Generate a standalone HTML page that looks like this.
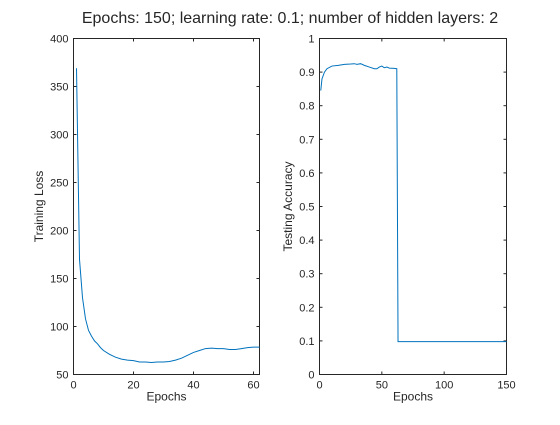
<!DOCTYPE html>
<html><head><meta charset="utf-8"><style>
body{margin:0;background:#fff;width:560px;height:420px;overflow:hidden}
text{font-family:"Liberation Sans",sans-serif;fill:#262626}
</style></head><body>
<svg id="fig" width="560" height="420" xmlns="http://www.w3.org/2000/svg">
<text x="290" y="23" font-size="16" text-anchor="middle">Epochs: 150; learning rate: 0.1; number of hidden layers: 2</text>
</svg>
<script>
const lossEpochs=[1,2,3,4,5,6,7,8,9,10,12,14,16,18,20,22,24,26,28,30,32,34,36,38,40,42,44,46,48,50,52,54,56,58,60,62];
const lossValues=[369,170,130,108,96,90,85,82,78,75,71,68,66,65,64.5,63,63,62.5,63,63,63.5,65,67,70,73,75,77,77.5,77,77,76,76,77,78,78.5,78.5];
const accEpochs=[1,2,4,6,10,15,20,25,28,30,33,36,40,44,46,48,50,52,54,56,60,62,63,150];
const accValues=[0.845,0.88,0.9,0.91,0.918,0.92,0.923,0.924,0.925,0.923,0.925,0.92,0.915,0.91,0.91,0.915,0.918,0.913,0.915,0.912,0.911,0.91,0.098,0.098];
const lossXTicks=[0,20,40,60];
const lossYTicks=[50,100,150,200,250,300,350,400];
const accXTicks=[0,50,100,150];
const accYTicks=[0,0.1,0.2,0.3,0.4,0.5,0.6,0.7,0.8,0.9,1];
const NS='http://www.w3.org/2000/svg';
const svg=document.getElementById('fig');
function mk(tag,attrs,parent){const e=document.createElementNS(NS,tag);for(const k in attrs)e.setAttribute(k,attrs[k]);(parent||svg).appendChild(e);return e;}
function panel(p){
  const g=mk('g',{});
  
  
  const sx=v=>p.x0+(v-p.xmin)/(p.xmax-p.xmin)*(p.x1-p.x0);
  const sy=v=>p.y1-(v-p.ymin)/(p.ymax-p.ymin)*(p.y1-p.y0);
  const box=mk('rect',{x:p.x0,y:p.y0,width:p.x1-p.x0,height:p.y1-p.y0,fill:'#fff',stroke:'#262626','stroke-width':1},g);
  
  
  p.xt.forEach(t=>{const x=sx(t);
    mk('line',{x1:x,x2:x,y1:p.y1,y2:p.y1-3,stroke:'#262626'},g);
    mk('line',{x1:x,x2:x,y1:p.y0,y2:p.y0+3,stroke:'#262626'},g);
    const tx=mk('text',{x:x,y:p.y1+14,'font-size':11,'text-anchor':'middle'},g);tx.textContent=t;
    
    });
  p.yt.forEach(t=>{const y=sy(t);
    mk('line',{x1:p.x0,x2:p.x0+3,y1:y,y2:y,stroke:'#262626'},g);
    mk('line',{x1:p.x1,x2:p.x1-3,y1:y,y2:y,stroke:'#262626'},g);
    const tx=mk('text',{x:p.x0-5,y:y+4,'font-size':11,'text-anchor':'end'},g);tx.textContent=t;
    
    });
  const d=p.xs.map((v,i)=>(i?'L':'M')+sx(v).toFixed(2)+','+sy(p.ys[i]).toFixed(2)).join('');
  const ln=mk('path',{d:d,fill:'none',stroke:'#0072BD','stroke-width':1},g);
  
  
  const xl=mk('text',{x:(p.x0+p.x1)/2,y:p.y1+26,'font-size':12,'text-anchor':'middle'},g);xl.textContent='Epochs';
  
  
  const cy=(p.y0+p.y1)/2;
  const yl=mk('text',{x:p.ylx,y:cy,'font-size':12,'text-anchor':'middle',transform:'rotate(-90 '+p.ylx+' '+cy+')'},g);yl.textContent=p.ylabel;
  
  
}
panel({name:'training-loss-plot',x0:73.5,x1:259.5,y0:38.5,y1:374.5,xmin:0,xmax:62,ymin:50,ymax:400,xt:lossXTicks,yt:lossYTicks,xs:lossEpochs,ys:lossValues,ylabel:'Training Loss',ylx:43});
panel({name:'testing-accuracy-plot',x0:319.5,x1:506.5,y0:38.5,y1:374.5,xmin:0,xmax:150,ymin:0,ymax:1,xt:accXTicks,yt:accYTicks,xs:accEpochs,ys:accValues,ylabel:'Testing Accuracy',ylx:292});
</script>
</body></html>
